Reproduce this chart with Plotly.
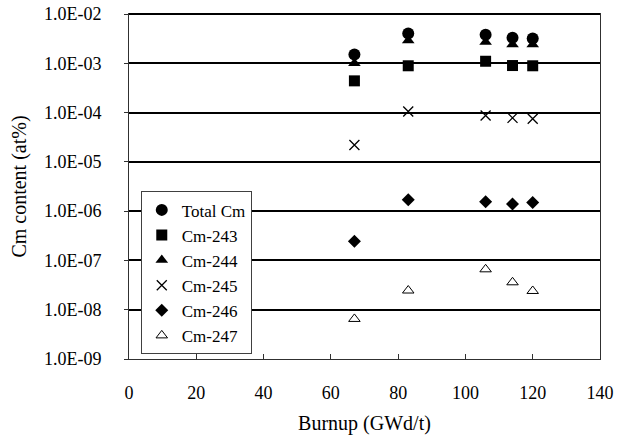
import plotly.graph_objects as go

burnup = [67, 83, 106, 114, 120]
total_cm = [1.5e-3, 4.0e-3, 3.8e-3, 3.3e-3, 3.2e-3]
cm243 = [4.4e-4, 8.9e-4, 1.1e-3, 9.0e-4, 8.9e-4]
cm244 = [1.0e-3, 2.9e-3, 2.7e-3, 2.4e-3, 2.4e-3]
cm245 = [2.2e-5, 1.05e-4, 8.7e-5, 7.8e-5, 7.5e-5]
cm246 = [2.45e-7, 1.7e-6, 1.55e-6, 1.4e-6, 1.5e-6]
cm247 = [6.5e-9, 2.45e-8, 6.6e-8, 3.6e-8, 2.4e-8]

y_tickvals = [1e-9, 1e-8, 1e-7, 1e-6, 1e-5, 1e-4, 1e-3, 1e-2]
y_ticktext = ["1.0E-09", "1.0E-08", "1.0E-07", "1.0E-06", "1.0E-05", "1.0E-04", "1.0E-03", "1.0E-02"]
x_tickvals = [0, 20, 40, 60, 80, 100, 120, 140]

series = [
    ("Total Cm", total_cm, dict(symbol="circle", size=12, color="black")),
    ("Cm-243", cm243, dict(symbol="square", size=11, color="black")),
    ("Cm-244", cm244, dict(symbol="triangle-up", size=11, color="black")),
    ("Cm-245", cm245, dict(symbol="x-thin", size=10, color="black", line=dict(color="black", width=1.3))),
    ("Cm-246", cm246, dict(symbol="diamond", size=10, color="black")),
    ("Cm-247", cm247, dict(symbol="triangle-up-open", size=10, color="black", line=dict(color="black", width=1))),
]

fig = go.Figure()
for name, vals, mk in series:
    fig.add_trace(go.Scatter(x=burnup, y=vals, mode="markers", name=name, marker=mk))

# top border of plot area (top gridline at 1.0E-02)
fig.add_shape(type="line", xref="paper", yref="paper", x0=0, x1=1, y0=1, y1=1,
              line=dict(color="black", width=2), layer="above")

font_family = "Liberation Serif"
fig.update_layout(
    width=629, height=441,
    margin=dict(l=129, r=29, t=14, b=82, autoexpand=False),
    paper_bgcolor="white", plot_bgcolor="white",
    font=dict(family=font_family, size=18, color="black"),
    showlegend=True,
    legend=dict(
        x=0.025, y=0.486, xanchor="left", yanchor="top",
        bgcolor="white", bordercolor="#404040", borderwidth=1,
        font=dict(family=font_family, size=17, color="black"),
        itemwidth=30, tracegroupgap=0,
    ),
    xaxis=dict(
        range=[0, 140], tickvals=x_tickvals, ticks="inside", ticklen=5,
        tickcolor="#303030", showgrid=False, zeroline=False, automargin=False,
        showline=True, linecolor="#303030", linewidth=1, mirror=True,
        ticklabelstandoff=17, ticklabeloverflow="allow",
        title=dict(text="Burnup (GWd/t)", font=dict(family=font_family, size=20), standoff=14),
        tickfont=dict(family=font_family, size=18),
    ),
    yaxis=dict(
        type="log", range=[-9, -2], tickvals=y_tickvals, ticktext=y_ticktext,
        ticks="outside", ticklen=4, tickcolor="#303030", automargin=False,
        showgrid=True, gridcolor="black", gridwidth=2,
        showline=True, linecolor="#303030", linewidth=1, mirror=True,
        zeroline=False, ticklabelstandoff=19, ticklabeloverflow="allow",
        title=dict(text="Cm content (at%)", font=dict(family=font_family, size=20), standoff=11),
        tickfont=dict(family=font_family, size=18),
    ),
)

fig.write_html("out.html", config={"displayModeBar": False},
               post_script="document.body.style.margin='0';")
